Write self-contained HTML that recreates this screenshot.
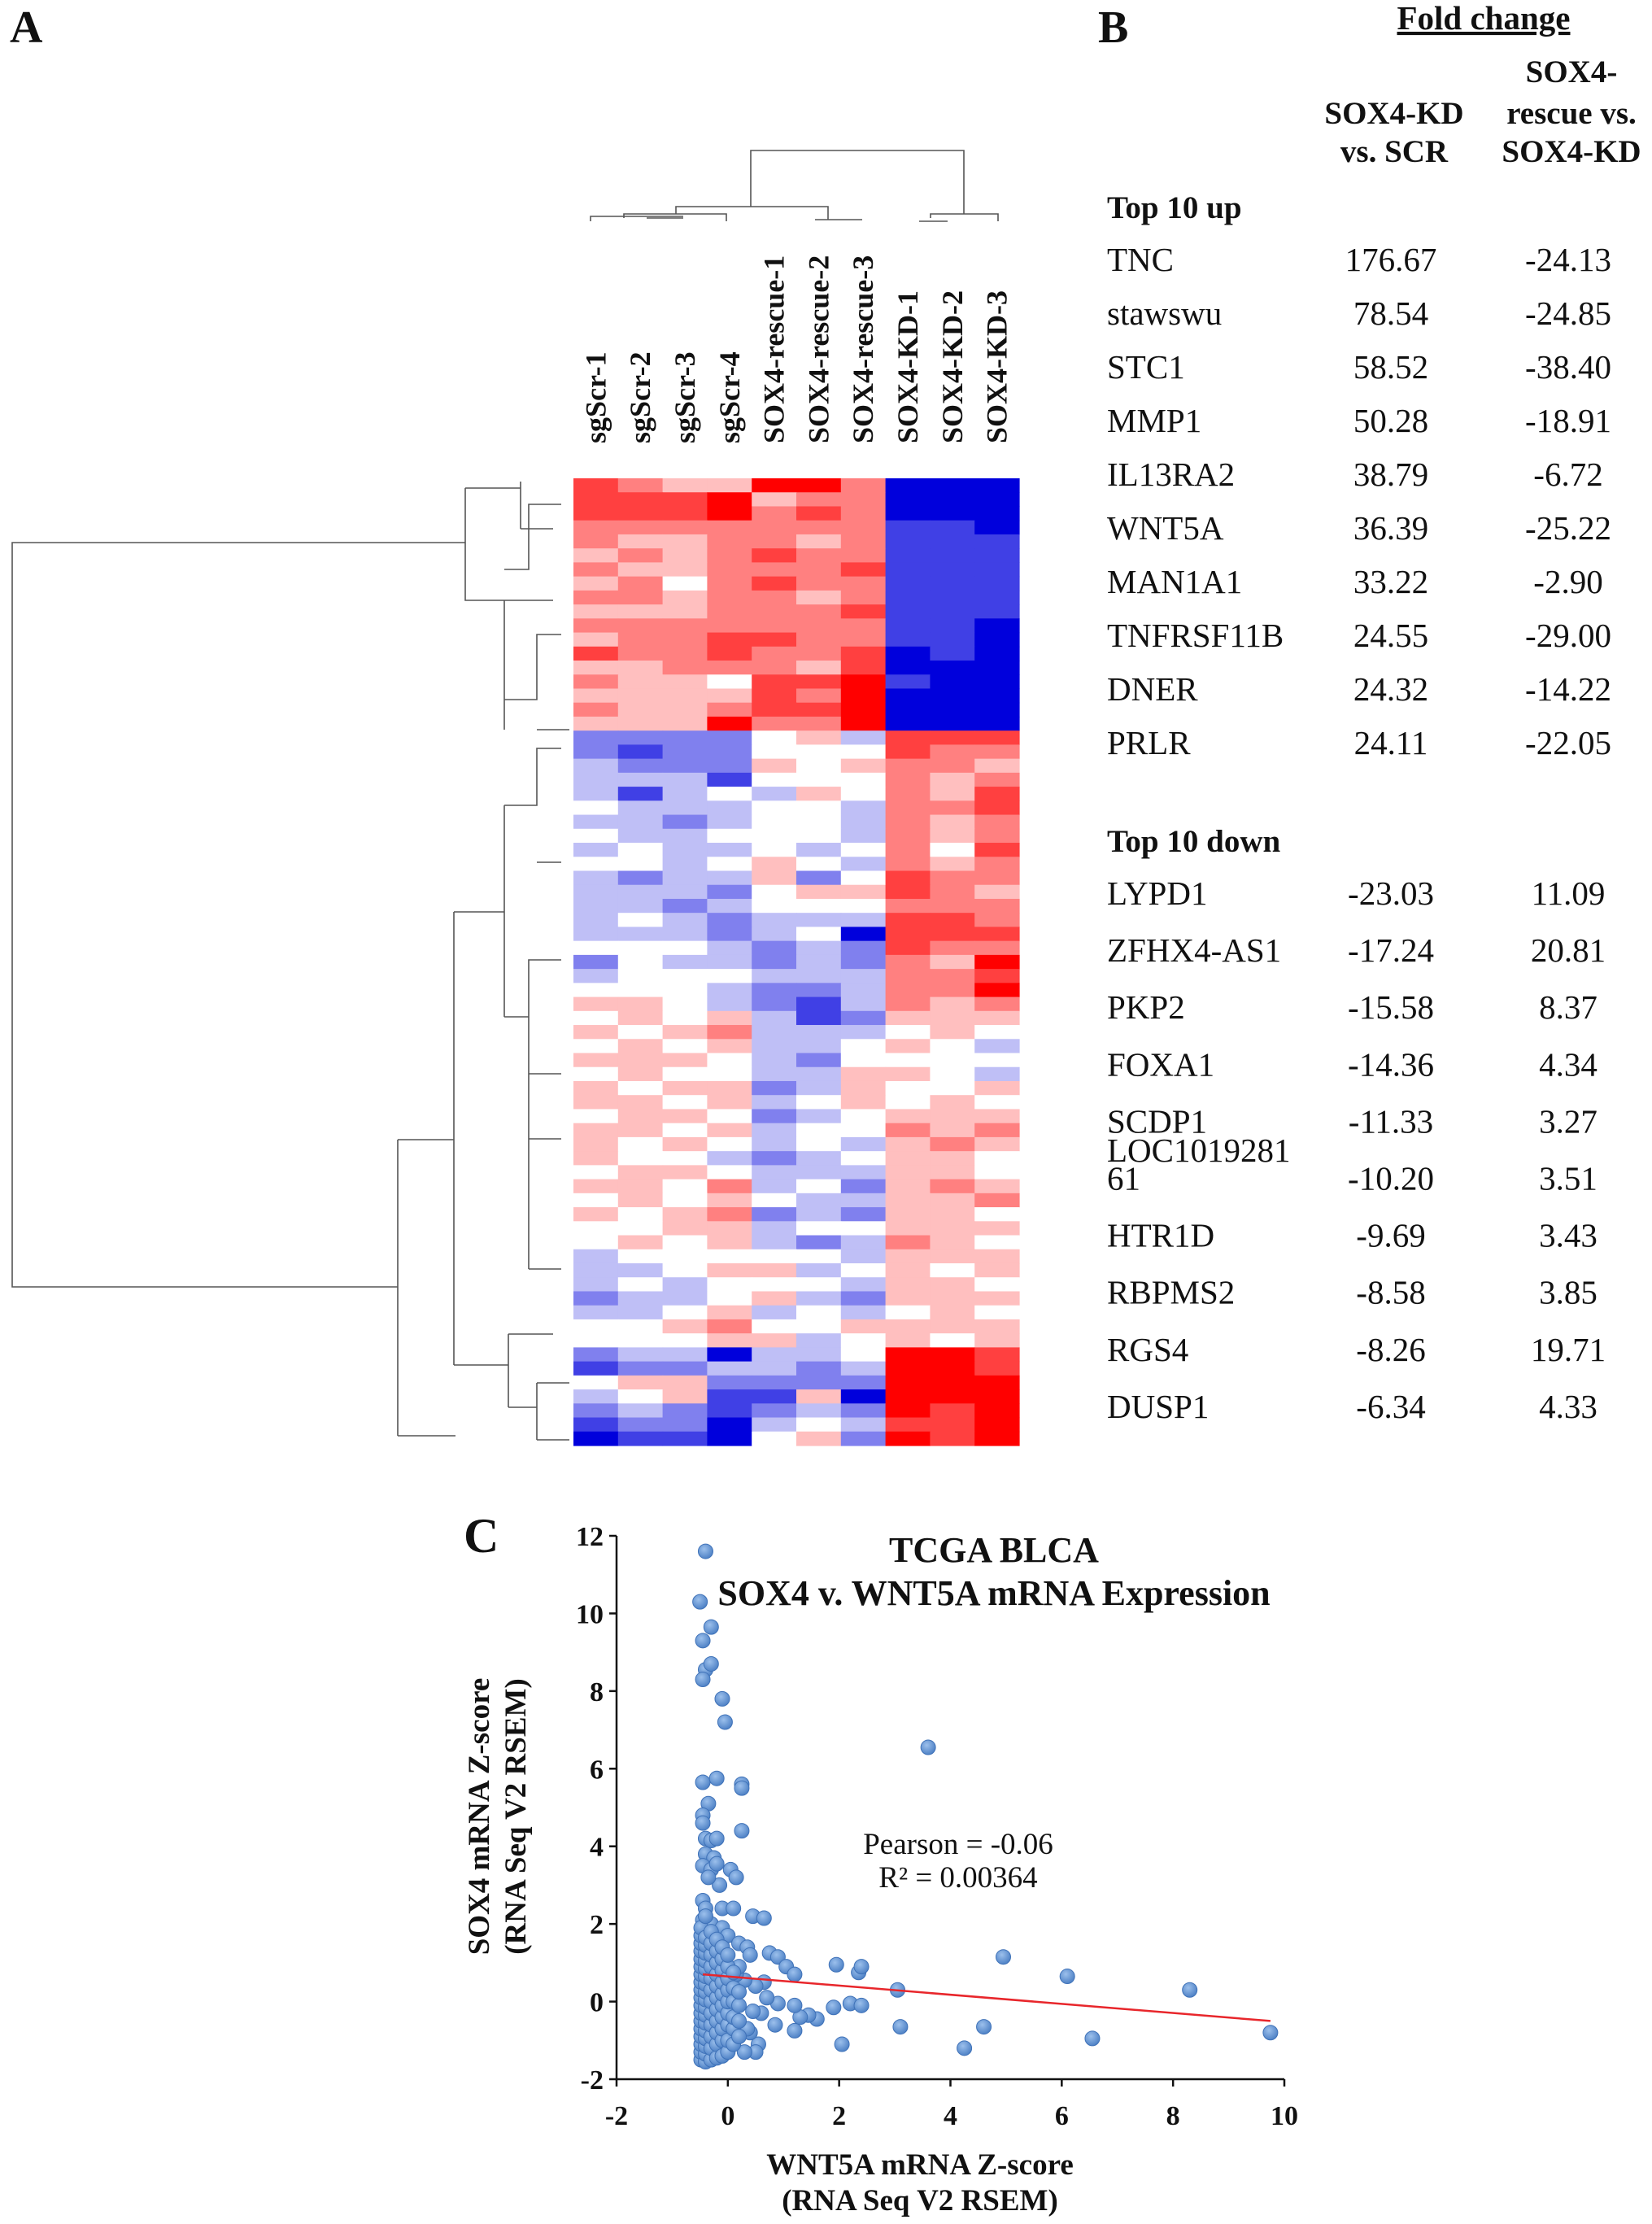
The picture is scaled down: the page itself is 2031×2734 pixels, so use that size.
<!DOCTYPE html>
<html><head><meta charset="utf-8"><style>
html,body{margin:0;padding:0;background:#fff}
svg{display:block}
text{font-family:"Liberation Serif","DejaVu Serif",serif;fill:#111}
</style></head><body>
<svg id="fig" width="2031" height="2734" viewBox="0 0 2031 2734" xmlns="http://www.w3.org/2000/svg">
<defs><radialGradient id="dot" cx="40%" cy="35%" r="65%"><stop offset="0" stop-color="#9cc0ec"/><stop offset="1" stop-color="#4f82c6"/></radialGradient></defs>
<text x="12" y="52" font-size="56" font-weight="bold">A</text>
<text x="1350" y="52" font-size="56" font-weight="bold">B</text>
<text x="570" y="1908" font-size="60" font-weight="bold">C</text>
<g id="heat"></g>
<g id="dendro" stroke="#555" stroke-width="1.6" fill="none">
<path d="M923,254 V185 H1185 V263 M831,263 V254 H1018 V270 M767,268 V263 H893 V272 M726,272 V266 H840 M795,268 H840 M1002,270 H1060 M1144,268 V263 H1227 V272 M1130,272 H1165"/>
<path d="M572,667 H15 V1582 H489 M572,600 V738 H680 M572,600 H640 M640,592 V650 M640,650 H680 M620,738 V897 M620,700 H650 V620 H690 M620,860 H660 V780 H690 M660,897 H700 M489,1401 V1765 M489,1401 H558 M489,1765 H560 M558,1121 V1678 M558,1121 H620 M558,1678 H625 M620,990 V1250 M620,990 H660 V920 H690 M660,1060 H690 M620,1250 H650 V1180 H690 M650,1320 H690 M650,1250 V1560 M650,1400 H690 M650,1560 H690 M625,1640 V1730 M625,1640 H680 M625,1730 H660 M660,1700 V1770 M660,1700 H700 M660,1770 H700"/>
</g>
<g id="collabels"></g>
<g font-size="41">
<text x="1824" y="36" text-anchor="middle" font-weight="bold" font-size="41" text-decoration="underline">Fold change</text>
<g font-weight="bold" text-anchor="middle" font-size="39">
<text x="1714" y="152">SOX4-KD</text><text x="1714" y="199">vs. SCR</text>
<text x="1932" y="101">SOX4-</text><text x="1932" y="152">rescue vs.</text><text x="1932" y="199">SOX4-KD</text>
<text x="1361" y="268" text-anchor="start">Top 10 up</text>
<text x="1361" y="1047" text-anchor="start">Top 10 down</text>
</g>
<g id="tbl"></g>
</g>
<g id="scatter"></g>
</svg>
<script>
const NS='http://www.w3.org/2000/svg';
function mk(t,a,p){const e=document.createElementNS(NS,t);for(const k in a)e.setAttribute(k,a[k]);p.appendChild(e);return e;}
const sampleNames=["sgScr-1","sgScr-2","sgScr-3","sgScr-4","SOX4-rescue-1","SOX4-rescue-2","SOX4-rescue-3","SOX4-KD-1","SOX4-KD-2","SOX4-KD-3"];
const heatRows=[
[3,2,1,1,4,4,2,-4,-4,-4],[3,3,3,4,1,2,2,-4,-4,-4],[3,3,3,4,2,3,2,-4,-4,-4],[2,2,2,2,2,2,2,-3,-3,-4],
[2,1,1,2,2,1,2,-3,-3,-3],[1,2,1,2,3,2,2,-3,-3,-3],[2,1,1,2,2,2,3,-3,-3,-3],[1,2,0,2,3,2,2,-3,-3,-3],
[2,2,1,2,2,1,2,-3,-3,-3],[1,1,1,2,2,2,3,-3,-3,-3],[2,2,2,2,2,2,2,-3,-3,-4],[1,2,2,3,3,2,2,-3,-3,-4],
[3,2,2,3,2,2,3,-4,-3,-4],[1,1,2,2,2,1,3,-4,-4,-4],[2,1,1,0,3,3,4,-3,-4,-4],[1,1,1,1,3,2,4,-4,-4,-4],
[2,1,1,2,3,3,4,-4,-4,-4],[1,1,1,4,2,2,4,-4,-4,-4],
[-2,-2,-2,-2,0,1,-1,3,3,3],[-2,-3,-2,-2,0,0,0,3,2,2],[-1,-2,-2,-2,1,0,1,2,2,1],[-1,-1,-1,-3,0,0,0,2,1,2],
[-1,-3,-1,0,-1,1,0,2,1,3],[0,-1,-1,-1,0,0,-1,2,2,3],[-1,-1,-2,-1,0,0,-1,2,1,2],[0,-1,-1,0,0,0,-1,2,1,2],
[-1,0,-1,-1,0,-1,0,2,0,3],[0,0,-1,0,1,0,-1,2,1,2],[-1,-2,-1,-1,1,-2,0,3,2,2],[-1,-1,-1,-2,0,1,1,3,2,1],
[-1,-1,-2,-1,0,0,0,2,2,2],[-1,0,-1,-2,-1,-1,-1,3,3,2],[-1,-1,-1,-2,-1,0,-4,3,3,3],[0,0,0,-1,-2,-1,-2,3,2,2],
[-2,0,-1,-1,-2,-1,-2,2,1,4],[-1,0,0,0,-1,-1,-1,2,2,3],[0,0,0,-1,-2,-2,-1,2,2,4],[1,1,0,-1,-2,-3,-1,2,1,2],
[0,1,0,1,-1,-3,-2,1,1,1],[1,0,1,2,-1,-1,-1,0,1,0],[0,1,0,1,-1,-1,0,1,0,-1],[1,1,1,0,-1,-2,0,0,0,0],
[0,1,0,0,-1,-1,1,1,0,-1],[1,0,1,1,-2,-1,1,0,0,1],[1,1,0,1,-1,0,1,0,1,0],[0,1,1,0,-2,-1,0,1,1,1],
[1,1,0,1,-1,0,0,2,1,2],[1,0,1,0,-1,0,-1,1,2,1],[1,0,0,-1,-2,-1,0,1,1,0],[0,1,1,0,-1,-1,-1,1,1,0],
[1,1,0,2,-1,0,-2,1,2,1],[0,1,0,1,0,-1,-1,1,1,2],[1,0,1,2,-2,-1,-2,1,1,0],[0,0,1,1,-1,0,0,1,1,1],
[0,1,0,1,-1,-2,-1,2,1,0],[-1,0,0,0,0,0,-1,1,1,1],[-1,-1,0,1,1,-1,0,1,0,1],[-1,0,-1,0,0,0,-1,1,1,0],
[-2,-1,-1,0,1,-1,-2,1,1,1],[-1,-1,0,1,-1,0,-1,0,1,0],[0,0,1,2,0,0,1,1,1,1],[0,0,0,1,1,-1,0,1,0,1],
[-2,-1,-1,-4,-1,-1,0,4,4,3],[-3,-2,-2,-1,-1,-2,-1,4,4,3],[0,1,1,-2,-2,-2,-2,4,4,4],[-1,0,1,-3,-3,1,-4,4,4,4],
[-2,-1,-2,-3,-2,-1,-2,4,3,4],[-3,-2,-2,-4,-1,0,-1,3,3,4],[-4,-3,-3,-4,0,1,-2,4,3,4]];
const HX0=705,HX1=1253,HY0=588,HY1=1777;
function colX(i){return HX0+(HX1-HX0)/sampleNames.length*i;}
function rowY(j){return HY0+(HY1-HY0)/heatRows.length*j;}
function heatColor(v){const t=Math.min(1,Math.abs(v)/4);
 if(v>=0)return `rgb(255,${Math.round(255*(1-t))},${Math.round(255*(1-t))})`;
 return `rgb(${Math.round(255*(1-t))},${Math.round(255*(1-t))},${Math.round(255-35*t)})`;}
const heat=document.getElementById('heat');
heatRows.forEach((row,j)=>row.forEach((v,i)=>{
 const r=mk('rect',{x:colX(i),y:rowY(j),width:colX(i+1)-colX(i)+0.6,height:rowY(j+1)-rowY(j)+0.6,fill:heatColor(v)},heat);
 
 
}));
const cl=document.getElementById('collabels');
sampleNames.forEach((n,i)=>{const cx=(colX(i)+colX(i+1))/2+12;
 const t=mk('text',{x:cx,y:545,transform:`rotate(-90 ${cx} 545)`,'font-size':36,'font-weight':'bold'},cl);t.textContent=n;
 
 });
const upGenes=["TNC","stawswu","STC1","MMP1","IL13RA2","WNT5A","MAN1A1","TNFRSF11B","DNER","PRLR"];
const upKD=["176.67","78.54","58.52","50.28","38.79","36.39","33.22","24.55","24.32","24.11"];
const upRescue=["-24.13","-24.85","-38.40","-18.91","-6.72","-25.22","-2.90","-29.00","-14.22","-22.05"];
const downGenes=["LYPD1","ZFHX4-AS1","PKP2","FOXA1","SCDP1","61","HTR1D","RBPMS2","RGS4","DUSP1"];
const downKD=["-23.03","-17.24","-15.58","-14.36","-11.33","-10.20","-9.69","-8.58","-8.26","-6.34"];
const downRescue=["11.09","20.81","8.37","4.34","3.27","3.51","3.43","3.85","19.71","4.33"];
const tbl=document.getElementById('tbl');
function row(g,a,b,y){
 const t1=mk('text',{x:1361,y:y},tbl);t1.textContent=g;
 
 
 const t2=mk('text',{x:1710,y:y,'text-anchor':'middle'},tbl);t2.textContent=a;
 
 
 const t3=mk('text',{x:1928,y:y,'text-anchor':'middle'},tbl);t3.textContent=b;
 
 }
upGenes.forEach((g,i)=>row(g,upKD[i],upRescue[i],333+66*i));
downGenes.forEach((g,i)=>row(g,downKD[i],downRescue[i],1112+70.1*i));
const lt=mk('text',{x:1361,y:1428},tbl);lt.textContent="LOC1019281";


const xTicks=[-2,0,2,4,6,8,10];
const yTicks=[-2,0,2,4,6,8,10,12];
const ptsX=[-0.4,-0.5,-0.45,-0.3,-0.4,-0.3,-0.45,-0.1,-0.05,3.6,-0.45,-0.2,0.25,0.25,-0.35,-0.45,-0.45,-0.4,-0.3,-0.2,0.25,-0.4,-0.25,-0.45,-0.3,-0.2,0.05,0.15,-0.15,-0.35,-0.45,-0.4,-0.1,0.1,0.45,0.65,-0.45,-0.3,-0.1,0.0,0.2,0.35,0.4,0.75,0.9,1.05,1.2,1.95,2.35,2.4,3.05,4.95,6.1,8.3,9.75,6.55,4.6,4.25,3.1,2.05,2.2,2.4,1.9,1.6,1.45,1.3,1.2,1.2,0.9,0.85,0.7,0.6,0.55,0.5,0.3,0.4,0.45,0.35,0.65,0.5,0.3,0.15,0.2,
-0.48,-0.48,-0.48,-0.48,-0.48,-0.48,-0.48,-0.48,-0.48,-0.48,-0.48,-0.48,-0.48,-0.48,-0.48,-0.48,-0.48,-0.48,
-0.4,-0.4,-0.4,-0.4,-0.4,-0.4,-0.4,-0.4,-0.4,-0.4,-0.4,-0.4,-0.4,-0.4,-0.4,-0.4,-0.4,-0.4,
-0.3,-0.3,-0.3,-0.3,-0.3,-0.3,-0.3,-0.3,-0.3,-0.3,-0.3,-0.3,
-0.2,-0.2,-0.2,-0.2,-0.2,-0.2,-0.2,-0.2,-0.2,-0.2,-0.2,
-0.1,-0.1,-0.1,-0.1,-0.1,-0.1,-0.1,-0.1,-0.1,-0.1,
0,0,0,0,0,0,0,0,0,0.1,0.1,0.1,0.1,0.1,0.1,0.2,0.2,0.2,0.2];
const ptsY=[11.6,10.3,9.3,9.65,8.55,8.7,8.3,7.8,7.2,6.55,5.65,5.75,5.6,5.5,5.1,4.8,4.6,4.2,4.15,4.2,4.4,3.8,3.7,3.5,3.4,3.55,3.4,3.2,3.0,3.2,2.6,2.4,2.4,2.4,2.2,2.15,2.1,2.0,1.9,1.7,1.5,1.4,1.2,1.25,1.15,0.9,0.7,0.95,0.75,0.9,0.3,1.15,0.65,0.3,-0.8,-0.95,-0.65,-1.2,-0.65,-1.1,-0.05,-0.1,-0.15,-0.45,-0.35,-0.4,-0.75,-0.1,-0.05,-0.6,0.1,-0.3,-1.1,-1.3,-1.3,-0.8,-0.25,-0.7,0.5,0.4,0.55,0.7,0.9,
-1.5,-1.3,-1.1,-0.9,-0.7,-0.5,-0.3,-0.1,0.1,0.3,0.5,0.7,0.9,1.1,1.3,1.5,1.7,1.9,
-1.55,-1.35,-1.15,-0.95,-0.75,-0.55,-0.35,-0.15,0.05,0.25,0.45,0.65,0.85,1.05,1.25,1.45,1.65,2.2,
-1.5,-1.2,-0.9,-0.6,-0.3,0,0.3,0.6,0.9,1.2,1.5,1.8,
-1.45,-1.1,-0.8,-0.5,-0.2,0.1,0.4,0.7,1.0,1.3,1.6,
-1.4,-1.0,-0.7,-0.4,-0.1,0.2,0.5,0.8,1.1,1.4,
-1.3,-1.0,-0.6,-0.3,0.0,0.3,0.6,0.9,1.2,-1.1,-0.7,-0.4,0.0,0.35,0.75,-0.9,-0.5,-0.1,0.25];
const trendX=[-0.45,9.75];
const trendY=[0.7,-0.5];
const SX0=758,SX1=1579,SY0=2556,SY1=1888;
function sx(v){return SX0+(v-(-2))/12*(SX1-SX0);}
function sy(v){return SY0-(v-(-2))/14*(SY0-SY1);}
const sc=document.getElementById('scatter');
const ax=mk('path',{d:`M${SX0},${SY1} V${SY0} H${SX1}`,stroke:'#111','stroke-width':2.5,fill:'none'},sc);


yTicks.forEach(v=>{const l=mk('line',{x1:SX0-9,x2:SX0,y1:sy(v),y2:sy(v),stroke:'#111','stroke-width':2.5},sc);
 
 
 const t=mk('text',{x:SX0-16,y:sy(v)+12,'text-anchor':'end','font-size':34,'font-weight':'bold'},sc);t.textContent=v;
 
 });
xTicks.forEach(v=>{const l=mk('line',{x1:sx(v),x2:sx(v),y1:SY0,y2:SY0+9,stroke:'#111','stroke-width':2.5},sc);
 
 
 const t=mk('text',{x:sx(v),y:SY0+56,'text-anchor':'middle','font-size':34,'font-weight':'bold'},sc);t.textContent=v;
 
 });
ptsX.forEach((x,i)=>{const c=mk('circle',{cx:sx(x),cy:sy(ptsY[i]),r:9,fill:'url(#dot)',stroke:'#3f72b8','stroke-width':1},sc);
 
 });
const tl=mk('line',{x1:sx(trendX[0]),y1:sy(trendY[0]),x2:sx(trendX[1]),y2:sy(trendY[1]),stroke:'#e8262b','stroke-width':2.5},sc);


function txt(s,a,name){const t=mk('text',a,sc);t.textContent=s;return t;}
txt('TCGA BLCA',{x:1222,y:1920,'text-anchor':'middle','font-size':44,'font-weight':'bold'},'chart-title');
txt('SOX4 v. WNT5A mRNA Expression',{x:1222,y:1973,'text-anchor':'middle','font-size':44,'font-weight':'bold'},'chart-subtitle');
txt('Pearson = -0.06',{x:1178,y:2279,'text-anchor':'middle','font-size':37},'pearson-label');
txt('R² = 0.00364',{x:1178,y:2320,'text-anchor':'middle','font-size':37},'r-squared-label');
txt('WNT5A mRNA Z-score',{x:1131,y:2673,'text-anchor':'middle','font-size':37,'font-weight':'bold'},'x-axis-title');
txt('(RNA Seq V2 RSEM)',{x:1131,y:2717,'text-anchor':'middle','font-size':37,'font-weight':'bold'},'x-axis-subtitle');
txt('SOX4 mRNA Z-score',{x:601,y:2233,'text-anchor':'middle','font-size':37,'font-weight':'bold',transform:'rotate(-90 601 2233)'},'y-axis-title');
txt('(RNA Seq V2 RSEM)',{x:646,y:2233,'text-anchor':'middle','font-size':37,'font-weight':'bold',transform:'rotate(-90 646 2233)'},'y-axis-subtitle');
</script>
</body></html>
